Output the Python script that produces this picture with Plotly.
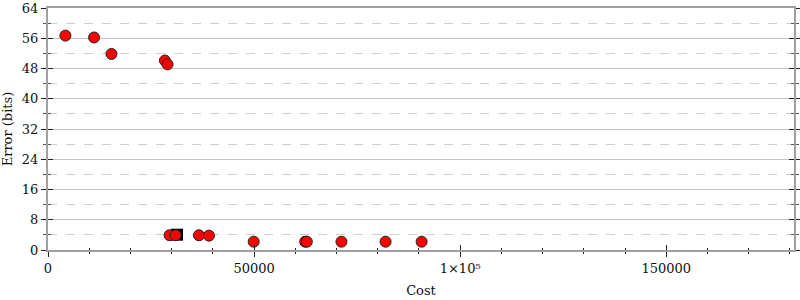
import plotly.graph_objects as go

# Data
circle_cost = [4230, 11180, 15400, 28360, 29000, 29500, 30960, 36620, 39050,
               49900, 62400, 62800, 71200, 81900, 90650]
circle_err = [56.7, 56.2, 51.85, 50.1, 49.1, 3.9, 3.9, 3.9, 3.8,
              2.2, 2.2, 2.2, 2.2, 2.2, 2.2]
square_cost = [31300]
square_err = [4.05]

x_tickvals = [0, 50000, 100000, 150000]
x_ticktext = ["0", "50000", "1×10⁵", "150000"]
y_tickvals = [0, 8, 16, 24, 32, 40, 48, 56, 64]

XMAX = 181000
YMAX = 64

FONT = "DejaVu Serif"
AXIS_COLOR = "#a0a0a0"
TICK_COLOR = "#222222"

fig = go.Figure()
fig.add_trace(go.Scatter(
    x=square_cost, y=square_err, mode="markers",
    marker=dict(symbol="square", size=12, color="black",
                line=dict(color="black", width=0)),
    hoverinfo="skip", showlegend=False))
fig.add_trace(go.Scatter(
    x=circle_cost, y=circle_err, mode="markers",
    marker=dict(symbol="circle", size=11, color="#ff0000",
                line=dict(color="#222222", width=1)),
    showlegend=False))
# empty trace so the overlay (inside-tick) axes are drawn
fig.add_trace(go.Scatter(x=[], y=[], xaxis="x2", yaxis="y2", showlegend=False))

fig.update_layout(
    width=800, height=300,
    margin=dict(l=48, r=6, t=8, b=50, autoexpand=False),
    plot_bgcolor="white", paper_bgcolor="white",
    font=dict(family=FONT, size=13, color="#111111"),
    xaxis=dict(
        range=[0, XMAX], tickvals=x_tickvals, ticktext=x_ticktext,
        ticks="outside", ticklen=5, tickcolor=TICK_COLOR, tickwidth=1,
        showline=True, linecolor=AXIS_COLOR, linewidth=2, mirror=True,
        showgrid=False, zeroline=False, automargin=False,
        minor=dict(dtick=10000, ticks="outside", ticklen=2,
                   tickcolor=TICK_COLOR, showgrid=False),
        title=dict(text="Cost", font=dict(family=FONT, size=13), standoff=11),
        tickfont=dict(family=FONT, size=13),
    ),
    yaxis=dict(
        range=[0, YMAX], tickvals=y_tickvals,
        ticks="outside", ticklen=5, tickcolor=TICK_COLOR, tickwidth=1,
        showline=True, linecolor=AXIS_COLOR, linewidth=2, mirror="ticks",
        showgrid=True, gridcolor="#c4c4c4", gridwidth=1, zeroline=False,
        automargin=False,
        minor=dict(dtick=4, ticks="outside", ticklen=3,
                   tickcolor="#555555", showgrid=True,
                   gridcolor="#cfcfcf", griddash="dash", gridwidth=1),
        title=dict(text="Error (bits)", font=dict(family=FONT, size=13), standoff=6),
        tickfont=dict(family=FONT, size=13),
    ),
    xaxis2=dict(
        range=[0, XMAX], overlaying="x", anchor="y2", side="bottom",
        tickvals=x_tickvals, showticklabels=False, automargin=False,
        ticks="inside", ticklen=5, tickcolor=TICK_COLOR,
        showline=False, showgrid=False, zeroline=False,
        minor=dict(dtick=10000, ticks="inside", ticklen=2,
                   tickcolor=TICK_COLOR, showgrid=False),
    ),
    yaxis2=dict(
        range=[0, YMAX], overlaying="y", anchor="x2", side="left",
        tickvals=y_tickvals, showticklabels=False, automargin=False,
        ticks="inside", ticklen=5, tickcolor=TICK_COLOR, mirror="ticks",
        showline=False, showgrid=False, zeroline=False,
        minor=dict(dtick=4, ticks="inside", ticklen=3,
                   tickcolor="#555555", showgrid=False),
    ),
)

fig.write_html("out.html")
